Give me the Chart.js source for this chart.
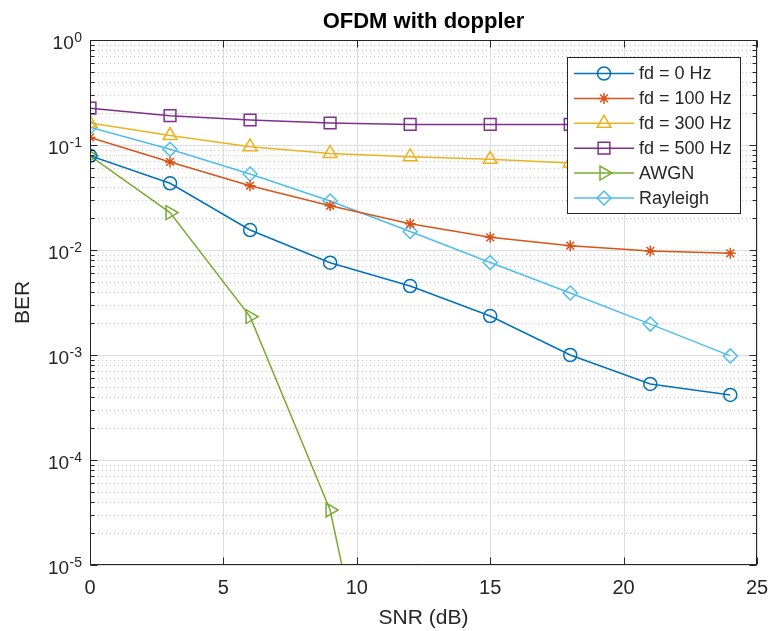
<!DOCTYPE html>
<html><head><meta charset="utf-8">
<script src="https://cdn.jsdelivr.net/npm/chart.js@4/dist/chart.umd.min.js"></script>
<style>html,body{margin:0;padding:0;background:#fff}canvas{display:block}</style>
</head><body>
<canvas id="c" width="772" height="631"></canvas>
<script>
// ---- data ----
const snr = [0, 3, 6, 9, 12, 15, 18, 21, 24];
const berFd0 = [0.079, 0.0432, 0.0155, 0.00757, 0.00454, 0.00235, 0.00100, 0.00053, 0.000416];
const berFd100 = [0.118, 0.069, 0.041, 0.0264, 0.0178, 0.0132, 0.0110, 0.0098, 0.0093];
const berFd300 = [0.162, 0.123, 0.096, 0.083, 0.0774, 0.073, 0.0674, 0.066, 0.065];
const berFd500 = [0.224, 0.190, 0.173, 0.162, 0.157, 0.157, 0.157, 0.156, 0.156];
const berAwgn = [0.079, 0.0227, 0.00232, 0.0000334, 0.000000009];
const berRayleigh = [0.1475, 0.091, 0.053, 0.0293, 0.015, 0.0076, 0.0039, 0.00197, 0.00098];
const seriesLabels = ['fd = 0 Hz', 'fd = 100 Hz', 'fd = 300 Hz', 'fd = 500 Hz', 'AWGN', 'Rayleigh'];
const xTicks = [0, 5, 10, 15, 20, 25];
const yTickExponents = [0, -1, -2, -3, -4, -5];
const chartTitle = 'OFDM with doppler';
const xTitle = 'SNR (dB)';
const yTitle = 'BER';

const FONT = '"Liberation Sans", Arial, Helvetica, sans-serif';
const AX = '#262626';
Chart.defaults.font.family = FONT;

function pts(ys) { return ys.map((y, i) => ({ x: snr[i], y: y })); }
function ds(label, ys, color, style, radius, rot) {
  return {
    label: label, data: pts(ys), borderColor: color, backgroundColor: 'rgba(0,0,0,0)',
    borderWidth: 1.5, pointStyle: style, pointRadius: radius, pointHoverRadius: radius,
    pointRotation: rot || 0, pointBorderColor: color, pointBackgroundColor: 'rgba(0,0,0,0)',
    pointBorderWidth: 1.5, tension: 0, fill: false
  };
}

const datasets = [
  ds(seriesLabels[0], berFd0, '#0072BD', 'circle', 6.5),
  ds(seriesLabels[1], berFd100, '#D95319', 'star', 5.5),
  ds(seriesLabels[2], berFd300, '#EDB120', 'triangle', 8),
  ds(seriesLabels[3], berFd500, '#7E2F8E', 'rect', 8.3),
  ds(seriesLabels[4], berAwgn, '#77AC30', 'triangle', 8, 90),
  ds(seriesLabels[5], berRayleigh, '#4DBEEE', 'rectRot', 7)
];

function drawMarker(ctx, d, x, y) {
  ctx.save();
  ctx.strokeStyle = d.borderColor; ctx.fillStyle = 'rgba(0,0,0,0)'; ctx.lineWidth = d.pointBorderWidth;
  if (Chart.helpers && Chart.helpers.drawPoint) {
    Chart.helpers.drawPoint(ctx, { pointStyle: d.pointStyle, radius: d.pointRadius, rotation: d.pointRotation || 0, borderWidth: d.pointBorderWidth }, x, y);
  } else {
    ctx.beginPath(); ctx.arc(x, y, d.pointRadius, 0, Math.PI * 2); ctx.stroke();
  }
  ctx.restore();
}

const matlabAxes = {
  id: 'matlabAxes',
  beforeDatasetsDraw(chart) {
    const { ctx, chartArea: a, scales: { x, y } } = chart;
    ctx.save();
    ctx.lineWidth = 1;
    // minor dotted horizontal grid
    ctx.strokeStyle = '#c4c4c4';
    ctx.setLineDash([1, 3]);
    for (let e = -5; e < 0; e++) {
      for (let m = 2; m <= 9; m++) {
        const py = Math.round(y.getPixelForValue(m * Math.pow(10, e))) + 0.5;
        ctx.beginPath(); ctx.moveTo(a.left, py); ctx.lineTo(a.right, py); ctx.stroke();
      }
    }
    ctx.setLineDash([]);
    // major grid
    ctx.strokeStyle = '#dedede';
    yTickExponents.forEach(e => {
      const py = Math.round(y.getPixelForValue(Math.pow(10, e))) + 0.5;
      ctx.beginPath(); ctx.moveTo(a.left, py); ctx.lineTo(a.right, py); ctx.stroke();
    });
    xTicks.forEach(v => {
      const px = Math.round(x.getPixelForValue(v)) + 0.5;
      ctx.beginPath(); ctx.moveTo(px, a.top); ctx.lineTo(px, a.bottom); ctx.stroke();
    });
    ctx.restore();
  },
  afterDatasetsDraw(chart) {
    const { ctx, chartArea: a, scales: { x, y } } = chart;
    ctx.save();
    ctx.strokeStyle = AX; ctx.lineWidth = 1;
    const L = Math.round(a.left) + 0.5, R = Math.round(a.right) - 0.5;
    const T = Math.round(a.top) + 0.5, B = Math.round(a.bottom) - 0.5;
    ctx.strokeRect(L, T, R - L, B - T);
    ctx.beginPath();
    // y ticks (major + minor) inside on both sides
    for (let e = -5; e <= 0; e++) {
      for (let m = 1; m <= 9; m++) {
        const v = m * Math.pow(10, e);
        if (v > 1.0001) break;
        const len = m === 1 ? 7 : 4;
        const py = Math.round(y.getPixelForValue(v)) + 0.5;
        ctx.moveTo(L, py); ctx.lineTo(L + len, py);
        ctx.moveTo(R, py); ctx.lineTo(R - len, py);
      }
    }
    xTicks.forEach(v => {
      const px = Math.round(x.getPixelForValue(v)) + 0.5;
      ctx.moveTo(px, B); ctx.lineTo(px, B - 7);
      ctx.moveTo(px, T); ctx.lineTo(px, T + 7);
    });
    ctx.stroke();
    ctx.restore();
  },
  afterDraw(chart) {
    const { ctx, chartArea: a, scales: { y } } = chart;
    ctx.save();
    // title
    ctx.fillStyle = '#000';
    ctx.font = 'bold 22px ' + FONT;
    ctx.textAlign = 'center'; ctx.textBaseline = 'alphabetic';
    ctx.fillText(chartTitle, (a.left + a.right) / 2, 28);
    // y tick labels with superscript exponents
    ctx.fillStyle = AX;
    yTickExponents.forEach(e => {
      const py = y.getPixelForValue(Math.pow(10, e));
      const sup = String(e);
      ctx.font = '14px ' + FONT;
      const sw = ctx.measureText(sup).width;
      const baseRight = 82 - sw - 0.5;
      ctx.textAlign = 'left'; ctx.textBaseline = 'middle';
      ctx.fillText(sup, baseRight + 0.5, py - 2);
      ctx.font = '19px ' + FONT;
      ctx.textAlign = 'right';
      ctx.fillText('10', baseRight, py + 4);
    });
    // legend
    const bx = 567.5, by = 57.5, bw = 173, bh = 156;
    ctx.fillStyle = '#fff';
    ctx.fillRect(bx, by, bw, bh);
    ctx.strokeStyle = AX; ctx.lineWidth = 1;
    ctx.strokeRect(bx, by, bw, bh);
    chart.data.datasets.forEach((d, i) => {
      const ry = 73.5 + i * 24.9;
      ctx.strokeStyle = d.borderColor; ctx.lineWidth = 1.5;
      ctx.beginPath(); ctx.moveTo(574, ry); ctx.lineTo(634, ry); ctx.stroke();
      drawMarker(ctx, d, 604, ry);
      ctx.fillStyle = AX;
      ctx.font = '18px ' + FONT;
      ctx.textAlign = 'left'; ctx.textBaseline = 'middle';
      ctx.fillText(d.label, 639, ry + 1);
    });
    ctx.restore();
  }
};

new Chart(document.getElementById('c'), {
  type: 'line',
  data: { datasets: datasets },
  plugins: [matlabAxes],
  options: {
    responsive: false,
    animation: false,
    devicePixelRatio: 1,
    layout: { padding: { left: 0, right: 15, top: 40, bottom: 0 } },
    plugins: { legend: { display: false }, title: { display: false }, tooltip: { enabled: false } },
    scales: {
      x: {
        type: 'linear', min: 0, max: 25,
        afterBuildTicks(s) { s.ticks = xTicks.map(v => ({ value: v })); },
        afterFit(s) { s.height = 66; s.paddingLeft = 0; s.paddingRight = 0; },
        ticks: { font: { size: 20 }, color: AX, padding: 11, maxRotation: 0, autoSkip: false },
        grid: { display: false, drawTicks: false },
        border: { display: false },
        title: { display: true, text: xTitle, font: { size: 21 }, color: AX, padding: { top: 0, bottom: 0 } }
      },
      y: {
        type: 'logarithmic', min: 1e-5, max: 1,
        afterFit(s) { s.width = 90; },
        ticks: { display: false },
        grid: { display: false, drawTicks: false },
        border: { display: false },
        title: { display: true, text: yTitle, font: { size: 21 }, color: AX, padding: { top: 11, bottom: 0 } }
      }
    }
  }
});
</script>
</body></html>
